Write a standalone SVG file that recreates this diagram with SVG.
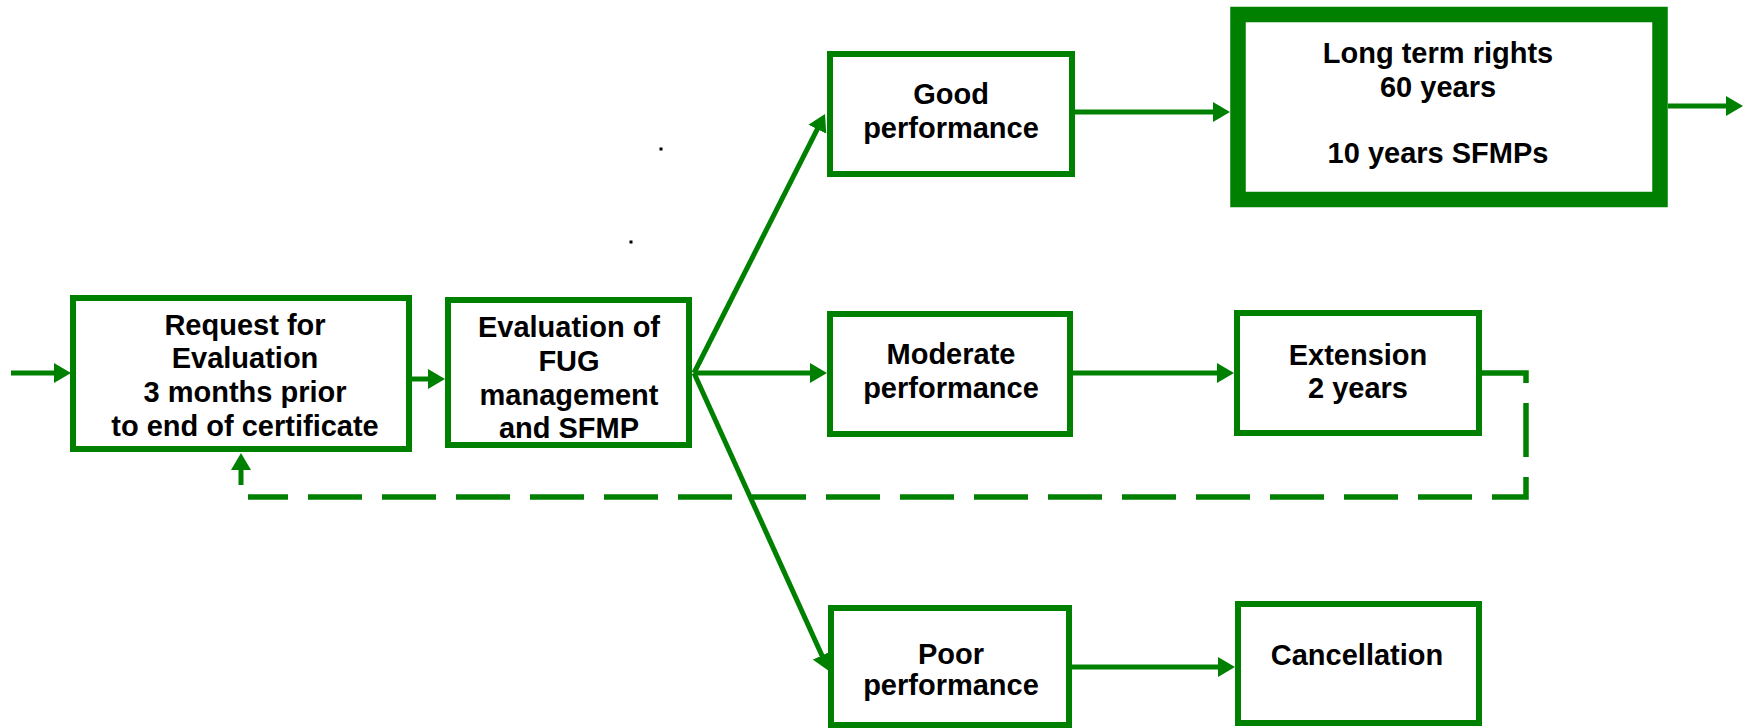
<svg xmlns="http://www.w3.org/2000/svg" width="1745" height="728" viewBox="0 0 1745 728">
<style>
.box{fill:#fff;stroke:#008000;stroke-width:6}
.thick{fill:#fff;stroke:#008000;stroke-width:15.5}
.lbl{font-family:"Liberation Sans",Arial,sans-serif;font-weight:bold;font-size:29px;fill:#000;text-anchor:middle}
.ln{stroke:#008000;stroke-width:5;fill:none}
.dash{stroke:#008000;stroke-width:5.5;fill:none;stroke-dasharray:54 20}
</style>
<defs>
<marker id="ah" markerUnits="userSpaceOnUse" markerWidth="18" markerHeight="20" refX="5" refY="10" orient="auto" viewBox="0 0 18 20">
<path d="M0,0 L17,10 L0,20 z" fill="#008000"/>
</marker>
</defs>
<rect width="1745" height="728" fill="#fff"/>
<g id="connectors">
<line class="ln" x1="11" y1="373" x2="59" y2="373" marker-end="url(#ah)"/>
<line class="ln" x1="412" y1="379" x2="433" y2="379" marker-end="url(#ah)"/>
<line class="ln" x1="694" y1="373" x2="819.6" y2="124.7" marker-end="url(#ah)"/>
<line class="ln" x1="694" y1="373" x2="815" y2="373" marker-end="url(#ah)"/>
<line class="ln" x1="694" y1="373" x2="824" y2="660" stroke-width="4" marker-end="url(#ah)"/>
<line class="ln" x1="1075" y1="112" x2="1218" y2="112" marker-end="url(#ah)"/>
<line class="ln" x1="1668" y1="106" x2="1731" y2="106" marker-end="url(#ah)"/>
<line class="ln" x1="1073" y1="373" x2="1222" y2="373" marker-end="url(#ah)"/>
<line class="ln" x1="1072" y1="667" x2="1223" y2="667" stroke-width="6.5" marker-end="url(#ah)"/>
<path class="dash" d="M1482,373 H1526 V497 H248"/>
<line class="ln" x1="241" y1="485" x2="241" y2="465" marker-end="url(#ah)"/>
</g>
<g id="request">
<rect class="box" x="73" y="298" width="336" height="151"/>
<text class="lbl" x="245" y="335">Request for</text>
<text class="lbl" x="245" y="368">Evaluation</text>
<text class="lbl" x="245" y="402">3 months prior</text>
<text class="lbl" x="245" y="436">to end of certificate</text>
</g>
<g id="evaluation">
<rect class="box" x="448" y="300" width="241" height="145"/>
<text class="lbl" x="569" y="337">Evaluation of</text>
<text class="lbl" x="569" y="371">FUG</text>
<text class="lbl" x="569" y="405">management</text>
<text class="lbl" x="569" y="438">and SFMP</text>
</g>
<g id="good">
<rect class="box" x="830" y="54" width="242" height="120"/>
<text class="lbl" x="951" y="104">Good</text>
<text class="lbl" x="951" y="138">performance</text>
</g>
<g id="longterm">
<rect class="thick" x="1238" y="14.5" width="422" height="185"/>
<text class="lbl" x="1438" y="63">Long term rights</text>
<text class="lbl" x="1438" y="97">60 years</text>
<text class="lbl" x="1438" y="163">10 years SFMPs</text>
</g>
<g id="moderate">
<rect class="box" x="830" y="314" width="240" height="120"/>
<text class="lbl" x="951" y="364">Moderate</text>
<text class="lbl" x="951" y="398">performance</text>
</g>
<g id="extension">
<rect class="box" x="1237" y="313" width="242" height="120"/>
<text class="lbl" x="1358" y="365">Extension</text>
<text class="lbl" x="1358" y="398">2 years</text>
</g>
<g id="poor">
<rect class="box" x="831" y="608" width="238" height="117"/>
<text class="lbl" x="951" y="664">Poor</text>
<text class="lbl" x="951" y="695">performance</text>
</g>
<g id="cancellation">
<rect class="box" x="1238" y="604" width="241" height="119"/>
<text class="lbl" x="1357" y="665">Cancellation</text>
</g>
<rect x="659.5" y="147.5" width="3" height="3" fill="#000"/>
<rect x="629.5" y="240.5" width="3" height="3" fill="#000"/>
</svg>
